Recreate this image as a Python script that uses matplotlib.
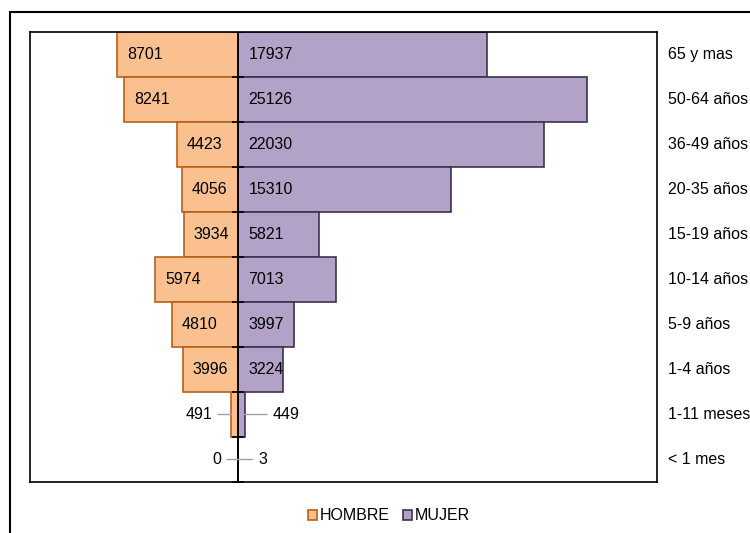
import numpy as np
import matplotlib
matplotlib.use("Agg")
import matplotlib.pyplot as plt
from matplotlib.patches import Rectangle, Patch

plt.rcParams['font.family'] = ['Liberation Sans', 'DejaVu Sans']

grupos = ['65 y mas', '50-64 años', '36-49 años', '20-35 años', '15-19 años',
          '10-14 años', '5-9 años', '1-4 años', '1-11 meses', '< 1 mes']
hombre = [8701, 8241, 4423, 4056, 3934, 5974, 4810, 3996, 491, 0]
mujer = [17937, 25126, 22030, 15310, 5821, 7013, 3997, 3224, 449, 3]

c_h, e_h = '#FAC090', '#B6611D'
c_m, e_m = '#B3A2C7', '#3F3151'

fig = plt.figure(figsize=(7.5, 5.33), dpi=100)
ax = fig.add_axes([30 / 750, 1 - 482 / 533, 627 / 750, 450 / 533])

# outer chart frame (only top/left visible in the crop)
fig.patches.append(Rectangle((10 / 750, -0.1), 1.0, 1 - 12 / 533 + 0.1,
                             transform=fig.transFigure, fill=False,
                             edgecolor='black', linewidth=1.5))

n = len(grupos)
y = np.arange(n)[::-1]
ax.barh(y, [-v for v in hombre], height=1.0, color=c_h, edgecolor=e_h,
        linewidth=1.2, label='HOMBRE')
ax.barh(y, mujer, height=1.0, color=c_m, edgecolor=e_m,
        linewidth=1.2, label='MUJER')

ax.set_xlim(-15000, 30150)
ax.set_ylim(-0.5, n - 0.5)
ax.axvline(0, color='black', linewidth=1.3)
ax.plot(np.zeros(n + 1), np.arange(n + 1) - 0.5, marker='_', markersize=9,
        ls='none', color='black', mew=1.2)
ax.set_xticks([])
ax.set_yticks([])
for s in ax.spines.values():
    s.set_linewidth(1.2)

fs = 11.5
lead = dict(arrowstyle='-', color='#A0A0A0', lw=1, shrinkA=2, shrinkB=0)
for yi, g, h, m in zip(y, grupos, hombre, mujer):
    if h > 1000:
        ax.annotate(str(h), (-h, yi), xytext=(10, 0), textcoords='offset pixels',
                    ha='left', va='center', fontsize=fs)
    else:
        ax.annotate(str(h), (-h, yi), xytext=(-19 if h else -17, 0),
                    textcoords='offset pixels', ha='right', va='center',
                    fontsize=fs, arrowprops=lead)
    if m > 1000:
        ax.annotate(str(m), (0, yi), xytext=(10, 0), textcoords='offset pixels',
                    ha='left', va='center', fontsize=fs)
    else:
        ax.annotate(str(m), (m, yi), xytext=(28 if m > 100 else 20, 0),
                    textcoords='offset pixels', ha='left', va='center',
                    fontsize=fs, arrowprops=lead)
    ax.text((668 - 30) / 627, yi, g, transform=ax.get_yaxis_transform(),
            ha='left', va='center', fontsize=fs)

handles = [Patch(facecolor=c_h, edgecolor=e_h, linewidth=1.2, label='HOMBRE'),
           Patch(facecolor=c_m, edgecolor=e_m, linewidth=1.2, label='MUJER')]
fig.legend(handles=handles, loc='center', bbox_to_anchor=(389 / 750, 1 - 516 / 533),
           ncol=2, frameon=False, fontsize=fs, handlelength=0.55, handleheight=0.55,
           handletextpad=0.2, columnspacing=0.8)

fig.savefig('out.png', dpi=100)
